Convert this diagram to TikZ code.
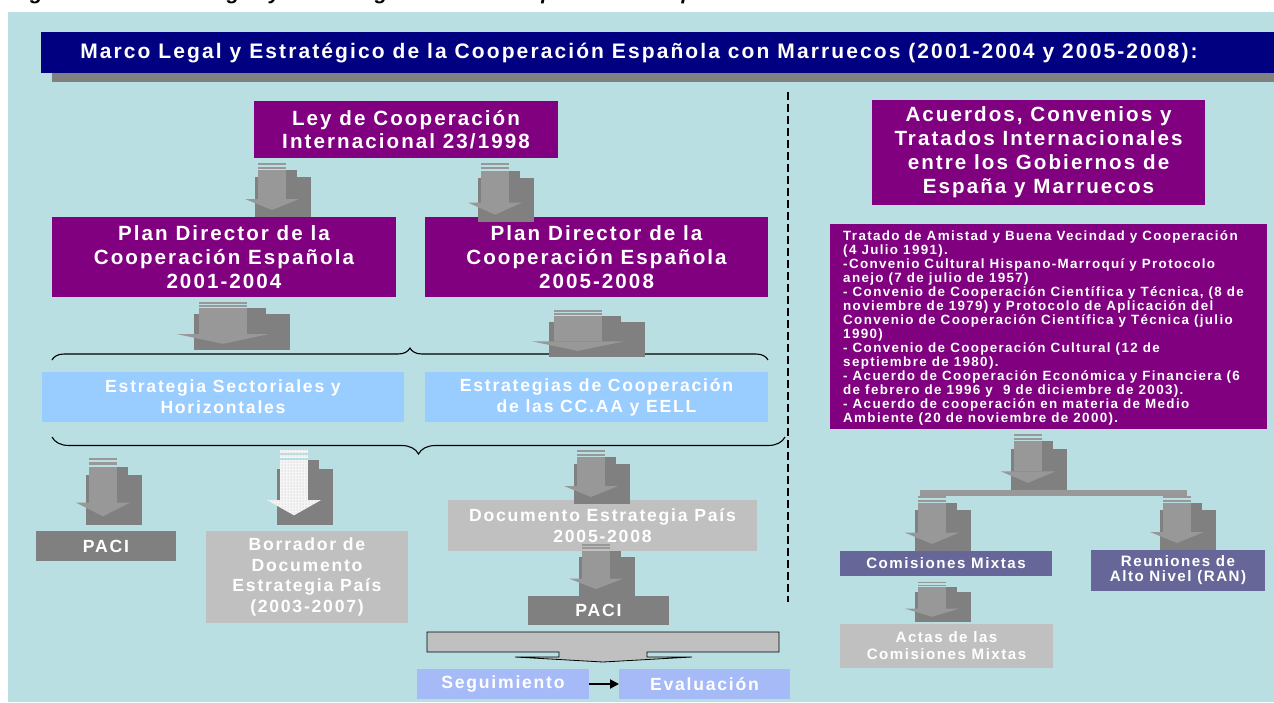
\documentclass[tikz,border=0pt]{standalone}
\usepackage{fontspec}
\setmainfont{Liberation Sans}[LetterSpace=10]
\usetikzlibrary{decorations.pathreplacing,arrows.meta,patterns}
\definecolor{bg}{RGB}{185,223,226}
\definecolor{navy}{RGB}{0,0,128}
\definecolor{purp}{RGB}{128,0,128}
\definecolor{lblue}{RGB}{153,204,255}
\definecolor{dgray}{RGB}{128,128,128}
\definecolor{lgray}{RGB}{192,192,192}
\definecolor{slate}{RGB}{102,102,153}
\definecolor{peri}{RGB}{166,186,248}
\definecolor{iconlight}{RGB}{152,152,152}
\definecolor{icondark}{RGB}{128,128,128}
\newcommand{\myfs}[2]{\fontsize{#1}{#2}\selectfont\bfseries}
\tikzset{
  aiconfill/.style={fill=iconlight},
  pics/aicon/.style={code={
    \fill[icondark] (-3,14) rectangle (53,54);
    \fill[icondark] (28,7) rectangle (39,14);
    \path[aiconfill] (0,7) rectangle (28,36);
    \path[aiconfill] (-13,36) -- (41,36) -- (14,47) -- cycle;
    \path[aiconfill] (0,0) rectangle (28,2);
    \path[aiconfill] (0,3.5) rectangle (28,5.5);
  }},
  box/.style={inner sep=0pt, outer sep=0pt, align=center, text=white, anchor=north west},
  bigtxt/.style={font=\myfs{20.6}{24}},
  midtxt/.style={font=\myfs{17.6}{21}},
  smalltxt/.style={font=\myfs{15.1}{17}},
  bracestyle/.style={decorate, line width=1.1pt, black},
}
\begin{document}
\begin{tikzpicture}[x=1pt,y=-1pt]
\useasboundingbox (0,0) rectangle (1274,702);
\fill[white] (0,0) rectangle (1274,702);
\fill[bg] (8,12) rectangle (1274,702);
% clipped caption
\begin{scope}
\clip (0,0) rectangle (1274,12);
\node[anchor=base west, inner sep=0pt, font=\fontsize{21}{25}\selectfont\bfseries\itshape] (cap) at (7,-1) {Figura 4. Marco Legal y Estratégico de la Cooperación Española};
\end{scope}
% title bar
\fill[dgray] (52,73) rectangle (1274,82);
\node[box, fill=navy, minimum width=1233pt, minimum height=41pt] (titlebar) at (41,32) {};
\node[text=white, font=\myfs{21}{24}, inner sep=0pt] (title) at (639,53) {Marco Legal y Estratégico de la Cooperación Española con Marruecos (2001-2004 y 2005-2008):};
% separator
\coordinate (sepA) at (788,92);
\coordinate (sepB) at (788,602);
\draw[line width=1.6pt, dash pattern=on 8pt off 4pt] (sepA) -- (sepB);
% left boxes
\node[box, fill=purp, font=\myfs{20.6}{23}, minimum width=304pt, minimum height=57pt] (ley) at (254,101) {Ley de Cooperación\\Internacional 23/1998};
\node[box, fill=purp, bigtxt, minimum width=344pt, minimum height=80pt] (pd1) at (52,217) {Plan Director de la\\Cooperación Española\\2001-2004};
\node[box, fill=purp, bigtxt, minimum width=343pt, minimum height=80pt] (pd2) at (425,217) {Plan Director de la\\Cooperación Española\\2005-2008};
\node[box, fill=lblue, midtxt, minimum width=362pt, minimum height=50pt] (es1) at (42,372) {Estrategia Sectoriales y\\Horizontales};
\node[box, fill=lblue, midtxt, minimum width=343pt, minimum height=50pt] (es2) at (425,372) {Estrategias de Cooperación\\de las CC.AA y EELL};
\node[box, fill=dgray, midtxt, minimum width=140pt, minimum height=30pt] (paci1) at (36,531) {PACI};
\node[box, fill=lgray, font=\myfs{17.6}{20.5}, minimum width=202pt, minimum height=92pt] (borr) at (206,531) {Borrador de\\Documento\\Estrategia País\\(2003-2007)};
\node[box, fill=lgray, midtxt, minimum width=309pt, minimum height=51pt] (doc) at (448,500) {Documento Estrategia País\\2005-2008};
\node[box, fill=dgray, midtxt, minimum width=141pt, minimum height=29pt] (paci2) at (528,596) {PACI};
\node[box, fill=peri, midtxt, minimum width=172pt, minimum height=30pt] (seg) at (417,669) {Seguimiento};
\node[box, fill=peri, midtxt, minimum width=171pt, minimum height=30pt] (eva) at (619,669) {Evaluación};
\draw[line width=2pt, -{Triangle[length=9pt,width=9pt]}] (seg) -- (eva);
% braces
\draw[bracestyle, decoration={brace, amplitude=12pt}] (52,360) -- (768,360);
\draw[bracestyle, decoration={brace, amplitude=17pt}] (785,437) -- (52,437);
% wide block arrow
\draw[fill=lgray, draw=black, line width=0.8pt] (427,632) -- (779,632) -- (779,652) -- (647,652) -- (647,657) -- (692,657) -- (603,662) -- (515,657) -- (559,657) -- (559,652) -- (427,652) -- cycle;
% right boxes
\node[box, fill=purp, bigtxt, minimum width=333pt, minimum height=105pt] (acu) at (872,100) {Acuerdos, Convenios y\\Tratados Internacionales\\entre los Gobiernos de\\España y Marruecos};
\node[box, fill=purp, minimum width=437pt, minimum height=205pt] (lst) at (830,224) {};
\node[anchor=north west, inner sep=0pt, align=left, text=white, font=\myfs{13.4}{14}] (lsttxt) at (843,230) {Tratado de Amistad y Buena Vecindad y Cooperación\\(4 Julio 1991).\\-Convenio Cultural Hispano-Marroquí y Protocolo\\anejo (7 de julio de 1957)\\- Convenio de Cooperación Científica y Técnica, (8 de\\noviembre de 1979) y Protocolo de Aplicación del\\Convenio de Cooperación Científica y Técnica (julio\\1990)\\- Convenio de Cooperación Cultural (12 de\\septiembre de 1980).\\- Acuerdo de Cooperación Económica y Financiera (6\\de febrero de 1996 y \ 9 de diciembre de 2003).\\- Acuerdo de cooperación en materia de Medio\\Ambiente (20 de noviembre de 2000).};
\node[box, fill=slate, smalltxt, minimum width=212pt, minimum height=25pt] (com) at (840,551) {Comisiones Mixtas};
\node[box, fill=slate, font=\myfs{15.1}{15}, minimum width=174pt, minimum height=41pt] (ran) at (1091,550) {Reuniones de\\Alto Nivel (RAN)};
\node[box, fill=lgray, smalltxt, minimum width=213pt, minimum height=44pt] (act) at (840,624) {Actas de las\\Comisiones Mixtas};
\fill[iconlight] (920,490) rectangle (1187,496);
% arrow icons
\pic at (258,163) {aicon};
\pic[yscale=1.1] at (481,163) {aicon};
\pic[xscale=1.71, yscale=0.89] at (199,302) {aicon};
\pic[xscale=1.71, yscale=0.87] at (554,310) {aicon};
\pic[yscale=1.24] at (89,458) {aicon};
\pic[yscale=1.39, aiconfill/.style={fill=white!92!gray, postaction={pattern=dots, pattern color=gray!60}}] at (280,450) {aicon};
\pic at (577,450) {aicon};
\pic[yscale=0.96] at (582,544) {aicon};
\pic[yscale=1.04] at (1014,434) {aicon};
\pic[yscale=1.02] at (918,496) {aicon};
\pic[yscale=1.0] at (1163,496) {aicon};
\pic[yscale=0.74] at (918,582) {aicon};
\end{tikzpicture}
\end{document}
